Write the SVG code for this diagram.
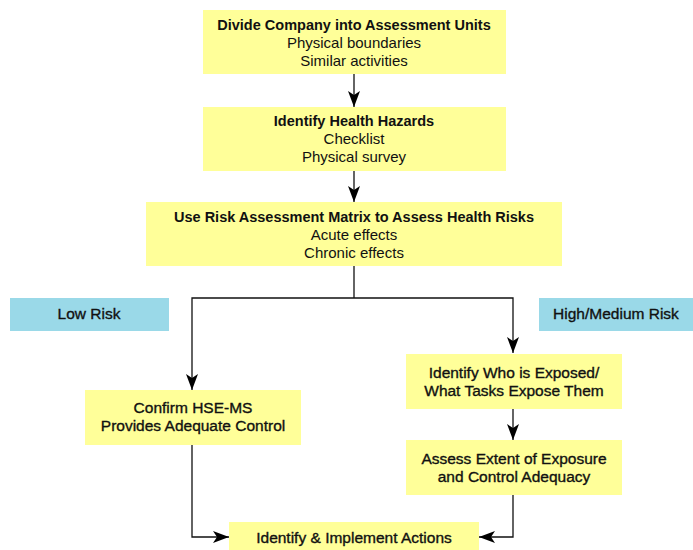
<svg xmlns="http://www.w3.org/2000/svg" width="693" height="550" viewBox="0 0 693 550">
<style>
.y{fill:#ffff99}
.b{fill:#9ad9e8}
text{font-family:"Liberation Sans",Arial,sans-serif;fill:#111;text-anchor:middle}
.t{font-size:14.5px;font-weight:bold}
.s{font-size:15px}
.l{font-size:15.5px;stroke:#111;stroke-width:0.35}
.c{fill:none;stroke:#111;stroke-width:1.3}
</style>
<defs>
<marker id="ah" viewBox="0 0 16 12" refX="16" refY="6" markerWidth="16" markerHeight="12" markerUnits="userSpaceOnUse" orient="auto">
<path d="M0,0 L16,6 L0,12 L4,6 Z" fill="#000"/>
</marker>
</defs>
<g id="connectors">
<line class="c" x1="354" y1="74" x2="354" y2="107" marker-end="url(#ah)"/>
<line class="c" x1="354" y1="171" x2="354" y2="202" marker-end="url(#ah)"/>
<line class="c" x1="354" y1="266" x2="354" y2="298"/>
<path class="c" d="M354,298 L513,298 L513,353" marker-end="url(#ah)"/>
<path class="c" d="M354,298 L192,298 L192,390" marker-end="url(#ah)"/>
<line class="c" x1="513" y1="409" x2="513" y2="440" marker-end="url(#ah)"/>
<polyline class="c" points="192,445 192,537 229,537" marker-end="url(#ah)"/>
<polyline class="c" points="513,495 513,537 479,537" marker-end="url(#ah)"/>
</g>
<g id="n1"><rect class="y" x="203" y="10" width="303" height="64"/>
<text class="t" x="354" y="30">Divide Company into Assessment Units</text>
<text class="s" x="354" y="48">Physical boundaries</text>
<text class="s" x="354" y="66">Similar activities</text></g>
<g id="n2"><rect class="y" x="203" y="107" width="303" height="64"/>
<text class="t" x="354" y="126">Identify Health Hazards</text>
<text class="s" x="354" y="144">Checklist</text>
<text class="s" x="354" y="162">Physical survey</text></g>
<g id="n3"><rect class="y" x="146" y="202" width="416" height="64"/>
<text class="t" x="354" y="222">Use Risk Assessment Matrix to Assess Health Risks</text>
<text class="s" x="354" y="240">Acute effects</text>
<text class="s" x="354" y="258">Chronic effects</text></g>
<g id="low"><rect class="b" x="10" y="298" width="159" height="33"/>
<text class="l" x="89" y="319">Low Risk</text></g>
<g id="high"><rect class="b" x="539" y="298" width="154" height="33"/>
<text class="l" x="616" y="319">High/Medium Risk</text></g>
<g id="who"><rect class="y" x="406" y="354" width="216" height="55"/>
<text class="l" x="514" y="378">Identify Who is Exposed/</text>
<text class="l" x="514" y="396">What Tasks Expose Them</text></g>
<g id="assess"><rect class="y" x="406" y="440" width="216" height="55"/>
<text class="l" x="514" y="464">Assess Extent of Exposure</text>
<text class="l" x="514" y="482">and Control Adequacy</text></g>
<g id="confirm"><rect class="y" x="85" y="390" width="216" height="55"/>
<text class="l" x="193" y="413">Confirm HSE-MS</text>
<text class="l" x="193" y="431">Provides Adequate Control</text></g>
<g id="act"><rect class="y" x="229" y="522" width="250" height="28"/>
<text class="l" x="354" y="543">Identify &amp; Implement Actions</text></g>
</svg>
